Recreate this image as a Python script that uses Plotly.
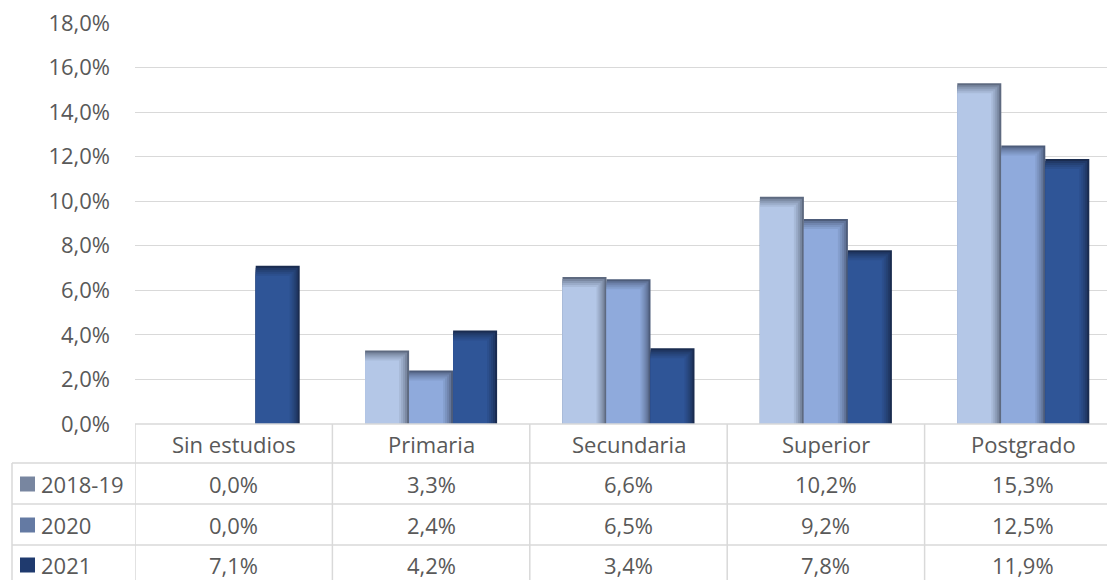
import plotly.graph_objects as go

categories = ["Sin estudios", "Primaria", "Secundaria", "Superior", "Postgrado"]
series_names = ["2018-19", "2020", "2021"]
v_2018_19 = [0.000, 0.033, 0.066, 0.102, 0.153]
v_2020 = [0.000, 0.024, 0.065, 0.092, 0.125]
v_2021 = [0.071, 0.042, 0.034, 0.078, 0.119]
series_values = [v_2018_19, v_2020, v_2021]
y_ticks = [0.0, 0.02, 0.04, 0.06, 0.08, 0.10, 0.12, 0.14, 0.16, 0.18]

main_colors = ["#B4C7E7", "#8FAADC", "#2F5597"]
edge_colors = ["#5E6A80", "#4D5C7A", "#1A2C50"]
swatch_colors = ["#7886A0", "#647AA3", "#1F3A6E"]

W, H = 1107, 580
plot_left, plot_top, plot_bottom = 135, 23, 424
cat_w_px = 197.4
x_min = -0.5
x_max = x_min + (W - plot_left) / cat_w_px
y_max = 0.18
px_y = y_max / (plot_bottom - plot_top)   # data units per pixel (y)
px_x = 1.0 / cat_w_px                     # data units per pixel (x)

bar_w = 44 * px_x
offsets = [-1.5 * bar_w, -0.5 * bar_w, 0.5 * bar_w]
FS = 22
TXT = "#595959"


def mix(c1, c2, t):
    a = [int(c1[i:i + 2], 16) for i in (1, 3, 5)]
    b = [int(c2[i:i + 2], 16) for i in (1, 3, 5)]
    return "#%02x%02x%02x" % tuple(round(a[k] + (b[k] - a[k]) * t) for k in range(3))


fig = go.Figure()
x_idx = list(range(len(categories)))
insets = [0, 2, 4, 6, 8, 10]
for s, (name, vals) in enumerate(zip(series_names, series_values)):
    for k, ins in enumerate(insets):
        t = k / (len(insets) - 1)
        ys = [(v - ins * px_y) if v - ins * px_y > 0 else None for v in vals]
        fig.add_trace(go.Bar(
            x=x_idx, y=ys, name=name,
            width=bar_w - ins * px_x, offset=offsets[s],
            marker=dict(color=mix(edge_colors[s], main_colors[s], t ** 0.7),
                        line=dict(width=0)),
            showlegend=False, hoverinfo="skip" if k else "y",
        ))

fig.update_layout(
    width=W, height=H,
    margin=dict(l=0, r=0, t=0, b=0, pad=0),
    paper_bgcolor="white", plot_bgcolor="white",
    barmode="overlay",
    separators=",.",
    font=dict(family="Open Sans, Noto Sans, sans-serif", size=FS, color=TXT),
    showlegend=False,
    xaxis=dict(domain=[plot_left / W, 1], range=[x_min, x_max], automargin=False,
               showticklabels=False, showgrid=False, zeroline=False,
               showline=False, fixedrange=True),
    yaxis=dict(domain=[1 - plot_bottom / H, 1 - plot_top / H], range=[0, y_max],
               automargin=False,
               tickvals=y_ticks, tickformat=".1%",
               showgrid=True, gridcolor="#D9D9D9", gridwidth=1.3,
               zeroline=False, showline=False,
               ticks="", ticklabelstandoff=24,
               tickfont=dict(size=FS, color=TXT)),
)

line_c = "#D9D9D9"


def py(p):
    return 1 - p / H


row_lines = [463, 504, 545]
fig.add_shape(type="line", xref="paper", yref="paper", x0=plot_left / W, x1=1,
              y0=py(plot_bottom), y1=py(plot_bottom), line=dict(color=line_c, width=1.5))
for r in row_lines:
    fig.add_shape(type="line", xref="paper", yref="paper", x0=12 / W, x1=1,
                  y0=py(r), y1=py(r), line=dict(color=line_c, width=1.5))
fig.add_shape(type="line", xref="paper", yref="paper", x0=12 / W, x1=12 / W,
              y0=py(463), y1=0, line=dict(color=line_c, width=1.5))
for i in range(len(categories)):
    fig.add_shape(type="line", xref="x", yref="paper", x0=i - 0.5, x1=i - 0.5,
                  y0=py(plot_bottom), y1=0, line=dict(color=line_c, width=1.5))

for i, c in enumerate(categories):
    fig.add_annotation(x=i, y=py(444), xref="x", yref="paper", text=c,
                       xanchor="center", yanchor="middle",
                       showarrow=False, font=dict(size=FS, color=TXT))

row_centers = [484, 525, 565]
for s, (name, vals) in enumerate(zip(series_names, series_values)):
    yc = py(row_centers[s])
    fig.add_shape(type="rect", xref="paper", yref="paper",
                  x0=20 / W, x1=35 / W, y0=py(row_centers[s] + 7.5), y1=py(row_centers[s] - 7.5),
                  fillcolor=swatch_colors[s], line=dict(width=0))
    fig.add_annotation(x=39 / W, y=yc, xref="paper", yref="paper", text=name,
                       showarrow=False, xanchor="left", yanchor="middle",
                       font=dict(size=FS, color=TXT))
    for i, v in enumerate(vals):
        fig.add_annotation(x=i, y=yc, xref="x", yref="paper",
                           text=f"{v * 100:.1f}%".replace(".", ","),
                           xanchor="center", yanchor="middle",
                           showarrow=False, font=dict(size=FS, color=TXT))

fig.write_html("out.html", config={"displayModeBar": False},
               post_script="document.body.style.margin='0';")
